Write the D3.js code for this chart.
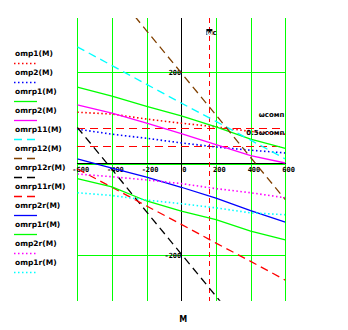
<!DOCTYPE html>
<html><head><meta charset="utf-8">
<script src="https://cdn.jsdelivr.net/npm/d3@7"></script>
<style>body{margin:0;background:#fff}svg{display:block}</style>
</head><body>
<svg id="c" width="348" height="330"></svg>
<script>
const xVals = [-600, -400, -200, 0, 200, 400, 600];
const xTicks = [-600, -400, -200, 0, 200, 400, 600];
const yTicks = [-200, 200];

const omp1    = [112, 108, 97, 88, 80, 70, 64];
const omp2    = [75, 64, 55, 45, 36, 29, 23];
const omrp1   = [167, 147, 125, 104, 80, 53, 33];
const omrp2   = [128, 110, 88, 65, 41, 17, 1];
const omrp11  = [255, 214, 173, 132, 92, 51, 10];
const omrp12  = [475, 383, 290, 198, 106, 13, -79];
const omrp12r = [79, -13, -106, -198, -290, -383, -475];
const omrp11r = [-12, -52, -93, -133, -174, -214, -255];
const omrp2r  = [10, -10, -30, -52, -76, -103, -128];
const omrp1r  = [-33, -51, -82, -104, -123, -148, -167];
const omp2r   = [-23, -29, -36, -44, -55, -64, -75];
const omp1r   = [-64, -70, -80, -88, -97, -108, -112];

const seriesNames = ["omp1(M)","omp2(M)","omrp1(M)","omrp2(M)","omrp11(M)","omrp12(M)","omrp12r(M)","omrp11r(M)","omrp2r(M)","omrp1r(M)","omp2r(M)","omp1r(M)"];
const seriesData = [omp1, omp2, omrp1, omrp2, omrp11, omrp12, omrp12r, omrp11r, omrp2r, omrp1r, omp2r, omp1r];
const seriesColors = ["#ff0000","#0000ff","#00ff00","#ff00ff","#00ffff","#804000","#000000","#ff0000","#0000ff","#00ff00","#ff00ff","#00ffff"];
const seriesDash = ["1.5,2.5","1.5,2.5","none","none","8,5","8,5","8,5","8,5","none","none","1.5,2.5","1.5,2.5"];

const markerYNames = ["ωсомп", "0.5ωсомп"];
const markerYVals = [78, 39];
const markerXName = "ωс";
const markerXVal = 162;
const xAxisTitle = "M";

const svg = d3.select("#c");
const L = 77.3, R = 285.3, T = 18, B = 300.7;
const x = d3.scaleLinear().domain([-600, 600]).range([L, R]);
const y = d3.scaleLinear().domain([-300, 318]).range([B, T]);

svg.append("defs").append("clipPath").attr("id","clip")
  .append("rect").attr("x", L).attr("y", T).attr("width", R - L).attr("height", B - T);

// grid
const g = svg.append("g").attr("shape-rendering","crispEdges");
g.selectAll(".vg").data(xTicks.filter(d => d !== 0)).enter().append("line")
  .attr("x1", d => Math.round(x(d)) + 0.5).attr("x2", d => Math.round(x(d)) + 0.5)
  .attr("y1", T).attr("y2", B).attr("stroke", "#00ff00").attr("stroke-width", 1);
g.selectAll(".hg").data([...yTicks, 0]).enter().append("line")
  .attr("x1", L).attr("x2", R + 1)
  .attr("y1", d => Math.round(y(d)) + (d === 0 ? 1.5 : 0.5)).attr("y2", d => Math.round(y(d)) + (d === 0 ? 1.5 : 0.5))
  .attr("stroke", "#00ff00").attr("stroke-width", 1);
// axes
g.append("line").attr("x1", Math.round(x(0)) + 0.5).attr("x2", Math.round(x(0)) + 0.5)
  .attr("y1", T).attr("y2", B).attr("stroke", "#000");
g.append("line").attr("x1", L).attr("x2", R + 1)
  .attr("y1", Math.round(y(0)) + 0.5).attr("y2", Math.round(y(0)) + 0.5).attr("stroke", "#000");

// tick labels
const tickFont = "bold 7px 'DejaVu Sans Mono', monospace";
svg.selectAll(".xt").data(xTicks).enter().append("text")
  .attr("x", d => d === 0 ? x(d) + 1 : (d < 0 ? x(d) - 5 : x(d) - 3))
  .attr("y", y(0) + 9)
  .style("font", tickFont).attr("fill", "#000")
  .text(d => String(d));
svg.selectAll(".yt").data(yTicks).enter().append("text")
  .attr("x", x(0)).attr("y", d => y(d) + 3).attr("text-anchor", "end")
  .style("font", tickFont).attr("fill", "#000")
  .text(d => String(d));

// markers
const mk = svg.append("g").attr("shape-rendering","crispEdges");
mk.selectAll(".mh").data(markerYVals).enter().append("line")
  .attr("x1", L).attr("x2", R)
  .attr("y1", d => Math.round(y(d)) + 0.5).attr("y2", d => Math.round(y(d)) + 0.5)
  .attr("stroke", "#ff0000").attr("stroke-dasharray", "8,5").attr("stroke-width", 1);
mk.append("line").attr("x1", Math.round(x(markerXVal)) + 0.5).attr("x2", Math.round(x(markerXVal)) + 0.5)
  .attr("y1", T).attr("y2", B).attr("stroke", "#ff0000").attr("stroke-dasharray", "5,4").attr("stroke-width", 1);

// data lines
const line = d3.line().x((d, i) => x(xVals[i])).y(d => y(d));
const lg = svg.append("g").attr("clip-path", "url(#clip)");
seriesData.forEach((arr, k) => {
  lg.append("path").datum(arr).attr("d", line)
    .attr("fill", "none").attr("stroke", seriesColors[k])
    .attr("stroke-width", seriesDash[k] === "1.5,2.5" ? 1.6 : 1.3)
    .attr("stroke-dasharray", seriesDash[k] === "none" ? null : seriesDash[k]);
});

// marker labels
const mfont = "bold 7px 'DejaVu Sans', sans-serif";
svg.selectAll(".ml").data(markerYNames).enter().append("text")
  .attr("x", R - 1).attr("y", (d, i) => y(markerYVals[i]) - 11)
  .attr("text-anchor", "end").style("font", mfont).attr("fill", "#000")
  .text(d => d);
const mxx = x(markerXVal);
svg.append("rect").attr("x", mxx - 3).attr("y", 29).attr("width", 6).attr("height", 6).attr("fill", "#000");
const mt = svg.append("text").attr("x", mxx - 3).attr("y", 35).style("font", mfont).attr("fill", "#000");
mt.append("tspan").attr("fill", "#fff").text(markerXName[0]);
mt.append("tspan").attr("fill", "#000").text(markerXName.slice(1));

// axis title
svg.append("text").attr("x", x(0) + 2).attr("y", 322).attr("text-anchor", "middle")
  .style("font", "bold 8px 'DejaVu Sans', sans-serif").text(xAxisTitle);

// legend
const leg = svg.append("g");
seriesNames.forEach((name, k) => {
  const ly = 53 + k * 19;
  leg.append("text").attr("x", 15).attr("y", ly + 3)
    .style("font", "bold 7.5px 'DejaVu Sans', sans-serif").attr("fill", "#000").text(name);
  leg.append("line").attr("x1", 14).attr("x2", 37).attr("y1", ly + 10.5).attr("y2", ly + 10.5)
    .attr("stroke", seriesColors[k]).attr("stroke-width", seriesDash[k] === "1.5,2.5" ? 1.6 : 1.3)
    .attr("stroke-dasharray", seriesDash[k] === "none" ? null : seriesDash[k]);
});
</script>
</body></html>
